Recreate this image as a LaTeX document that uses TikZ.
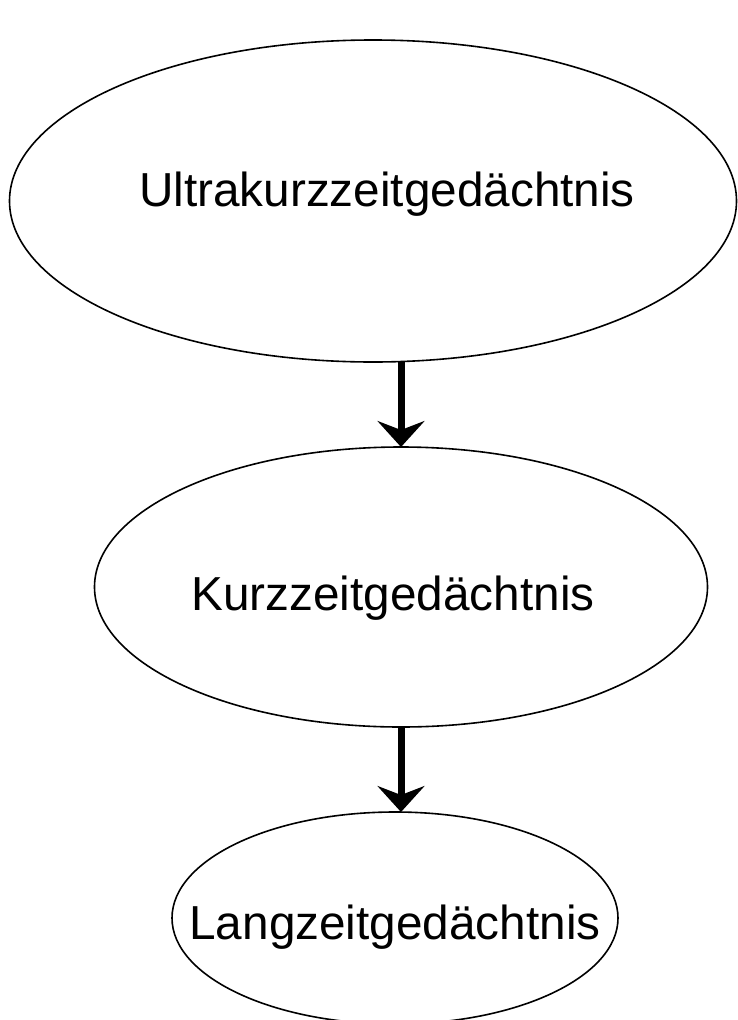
\documentclass[tikz,border=0pt]{standalone}
\usepackage{fontspec}
\setmainfont{Liberation Sans}
\usetikzlibrary{shapes.geometric,arrows.meta}
\begin{document}
\begin{tikzpicture}[x=1pt,y=-1pt,
  ell/.style={draw=black,line width=1.6pt,ellipse,inner sep=0pt,outer sep=0pt},
  lbl/.style={anchor=base,inner sep=0pt,font=\fontsize{47.7}{57}\selectfont},
  arr/.style={line width=7pt,-{Stealth[length=26pt,width=47pt,inset=9pt]}}]
\useasboundingbox (0,0) rectangle (737,1020);
\node[ell,minimum width=727pt,minimum height=322pt] (u) at (373,201) {};
\node[ell,minimum width=613pt,minimum height=280pt] (k) at (401,587) {};
\node[ell,minimum width=446pt,minimum height=212pt] (l) at (395,918) {};
\node[lbl] (tu) at (387,206) {Ultrakurzzeitgedächtnis};
\node[lbl] (tk) at (393,610) {Kurzzeitgedächtnis};
\node[lbl] (tl) at (395,939) {Langzeitgedächtnis};
\draw[arr] (k.north |- u.south) -- (k.north);
\draw[arr] (k.south) -- (k.south |- l.north);
\end{tikzpicture}
\end{document}
